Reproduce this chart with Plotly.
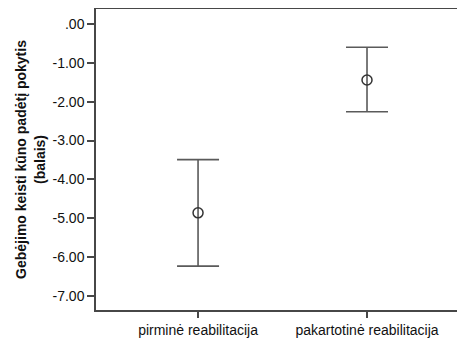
import plotly.graph_objects as go

categories = ["pirminė reabilitacija", "pakartotinė reabilitacija"]
means = [-4.86, -1.44]
upper = [-3.49, -0.60]
lower = [-6.23, -2.26]
ytick_vals = [0, -1, -2, -3, -4, -5, -6, -7]
ytick_text = [".00", "-1.00", "-2.00", "-3.00", "-4.00", "-5.00", "-6.00", "-7.00"]

xpos = list(range(len(categories)))
err_plus = [u - m for u, m in zip(upper, means)]
err_minus = [m - l for m, l in zip(means, lower)]

ink = "#474747"

fig = go.Figure()
fig.add_trace(go.Scatter(
    x=xpos, y=means, mode="markers",
    marker=dict(symbol="circle-open", size=10, color="#333333", line=dict(width=1.5, color="#333333")),
    error_y=dict(type="data", symmetric=False, array=err_plus, arrayminus=err_minus,
                 color="#5a5a5a", thickness=1.6, width=21),
    showlegend=False,
))

fig.update_layout(
    width=465, height=340,
    margin=dict(l=88, r=8, t=1, b=38),
    paper_bgcolor="white", plot_bgcolor="white",
    font=dict(family="Liberation Sans, Arial, sans-serif", size=13, color="#111111"),
    xaxis=dict(
        range=[-0.604, 1.58], tickvals=xpos, ticktext=categories,
        showgrid=False, zeroline=False, showline=True, linecolor=ink, linewidth=1.5,
        mirror=True, ticks="outside", ticklen=6, tickwidth=1.5, tickcolor=ink,
        tickfont=dict(size=14), automargin=False,
    ),
    yaxis=dict(
        range=[-7.36, 0.386], tickvals=ytick_vals, ticktext=ytick_text,
        showgrid=False, zeroline=False, showline=True, linecolor=ink, linewidth=1.5,
        mirror=False, ticks="outside", ticklen=7, tickwidth=1.5, tickcolor=ink,
        tickfont=dict(size=14), automargin=False,
        title=dict(text="<b>Gebėjimo keisti kūno padėtį pokytis<br>(balais)</b>",
                   font=dict(size=14), standoff=4),
    ),
)

fig.write_html("out.html")
